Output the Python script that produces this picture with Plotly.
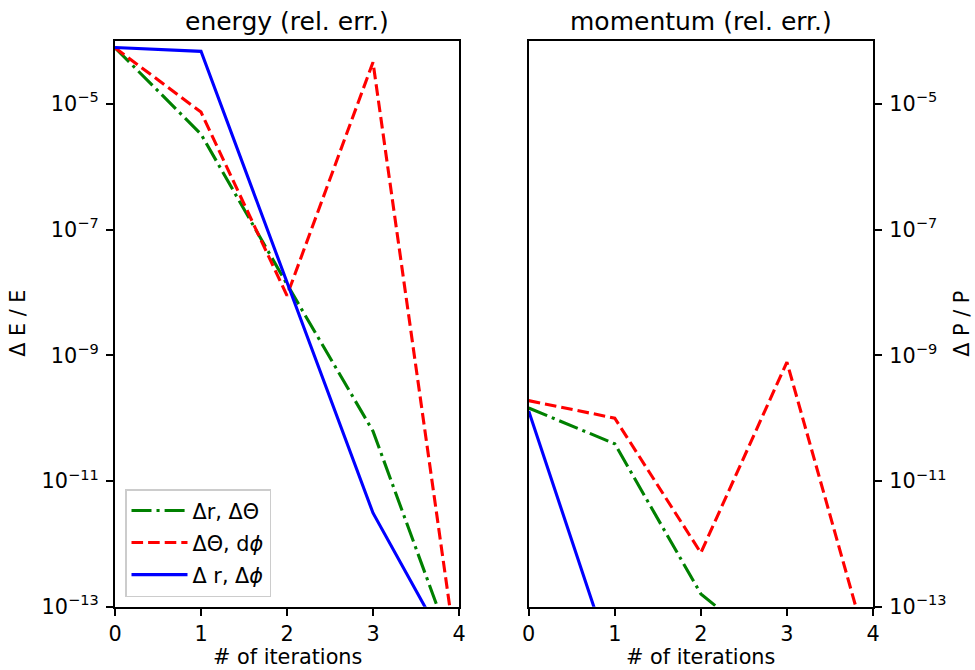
import plotly.graph_objects as go

# ---- data ----
iterations = [0, 1, 2, 3, 4]

energy_dr_dtheta = [7.8e-5, 3.3e-6, 1.35e-8, 6.2e-11, 1.15e-14]
energy_dtheta_dphi = [7.8e-5, 7.4e-6, 8.9e-9, 4.6e-5, 9.0e-15]
energy_dr_dphi = [7.9e-5, 6.85e-5, 1.45e-8, 3.1e-12, 1.05e-14]

momentum_dr_dtheta = [1.45e-10, 3.9e-11, 1.6e-13, 1.2e-14, 5.0e-15]
momentum_dtheta_dphi = [1.9e-10, 1.0e-10, 7.2e-13, 7.8e-10, 1.07e-14]
momentum_dr_dphi = [1.3e-10, 1.0e-14, 5.0e-15, 3.0e-15, 2.0e-15]

series_names = ["Δr, ΔΘ", "ΔΘ, d<i>ϕ</i>", "Δ r, Δ<i>ϕ</i>"]
series_colors = ["#008000", "#ff0000", "#0000ff"]
series_dashes = ["20px,5px,3.1px,5px", "11.6px,5px", "solid"]

ytick_vals = [1e-13, 1e-11, 1e-9, 1e-7, 1e-5]
ytick_text = ["10<sup>−13</sup>", "10<sup>−11</sup>", "10<sup>−9</sup>",
              "10<sup>−7</sup>", "10<sup>−5</sup>"]
xtick_vals = [0, 1, 2, 3, 4]

panel_titles = ["energy (rel. err.)", "momentum (rel. err.)"]
x_title = "# of iterations"
y_titles = ["Δ E / E", "Δ P / P"]

W, H = 975, 670
FONT = "DejaVu Sans"

fig = go.Figure()

energy = [energy_dr_dtheta, energy_dtheta_dphi, energy_dr_dphi]
momentum = [momentum_dr_dtheta, momentum_dtheta_dphi, momentum_dr_dphi]

for i in range(3):
    fig.add_trace(go.Scatter(
        x=iterations, y=energy[i], mode="lines", name=series_names[i],
        legendgroup=f"g{i}",
        line=dict(color=series_colors[i], width=3.1, dash=series_dashes[i]),
        xaxis="x", yaxis="y", showlegend=True))
for i in range(3):
    fig.add_trace(go.Scatter(
        x=iterations, y=momentum[i], mode="lines", name=series_names[i],
        legendgroup=f"g{i}",
        line=dict(color=series_colors[i], width=3.1, dash=series_dashes[i]),
        xaxis="x2", yaxis="y2", showlegend=False))

# axes geometry in pixels
L1, R1 = 115, 459
L2, R2 = 528.7, 873
TOP, BOT = 41, 606.7


def px(x):
    return x / W


def py(y):
    return 1 - y / H


axis_common = dict(showline=True, linecolor="black", linewidth=1.67,
                   mirror=True, ticks="outside", ticklen=7.3, tickwidth=1.67,
                   tickcolor="black", showgrid=False, zeroline=False,
                   automargin=False,
                   tickfont=dict(family=FONT, size=20.8, color="black"))

xaxis_common = dict(axis_common, range=[0, 4], tickmode="array",
                    tickvals=xtick_vals, ticktext=[str(v) for v in xtick_vals])
yaxis_common = dict(axis_common, type="log", range=[-13, -4], tickmode="array",
                    tickvals=ytick_vals, ticktext=ytick_text,
                    ticklabelstandoff=3,
                    domain=[py(BOT), py(TOP)])

fig.update_layout(
    width=W, height=H,
    margin=dict(l=0, r=0, t=0, b=0, autoexpand=False),
    paper_bgcolor="white", plot_bgcolor="white",
    font=dict(family=FONT, size=20.8, color="black"),
    xaxis=dict(xaxis_common, domain=[px(L1), px(R1)], anchor="y"),
    yaxis=dict(yaxis_common, anchor="x", side="left"),
    xaxis2=dict(xaxis_common, domain=[px(L2), px(R2)], anchor="y2"),
    yaxis2=dict(yaxis_common, anchor="x2", side="right"),
    showlegend=True,
    legend=dict(x=px(125), y=py(489), xanchor="left", yanchor="top",
                bgcolor="rgba(255,255,255,0.8)", bordercolor="#cccccc",
                borderwidth=1.5, tracegroupgap=2, itemwidth=56,
                font=dict(family=FONT, size=20.8, color="black")),
)

annotations = []
for title, (l, r) in zip(panel_titles, [(L1, R1), (L2, R2)]):
    annotations.append(dict(text=title, x=px((l + r) / 2), y=py(21),
                            xref="paper", yref="paper", xanchor="center",
                            yanchor="middle", showarrow=False,
                            font=dict(family=FONT, size=25, color="black")))
    annotations.append(dict(text=x_title, x=px((l + r) / 2), y=py(657),
                            xref="paper", yref="paper", xanchor="center",
                            yanchor="middle", showarrow=False,
                            font=dict(family=FONT, size=20.8, color="black")))
annotations.append(dict(text=y_titles[0], x=px(18), y=py((TOP + BOT) / 2),
                        xref="paper", yref="paper", xanchor="center",
                        yanchor="middle", textangle=-90, showarrow=False,
                        font=dict(family=FONT, size=20.8, color="black")))
annotations.append(dict(text=y_titles[1], x=px(962), y=py((TOP + BOT) / 2),
                        xref="paper", yref="paper", xanchor="center",
                        yanchor="middle", textangle=-90, showarrow=False,
                        font=dict(family=FONT, size=20.8, color="black")))
fig.update_layout(annotations=annotations)

fig.write_html("out.html", config={"displayModeBar": False})

# remove the default page margin so the figure sits at the window's top-left
with open("out.html", "r", encoding="utf-8") as f:
    html = f.read()
html = html.replace("<head>", "<head><style>html,body{margin:0;padding:0;overflow:hidden;}</style>", 1)
with open("out.html", "w", encoding="utf-8") as f:
    f.write(html)
